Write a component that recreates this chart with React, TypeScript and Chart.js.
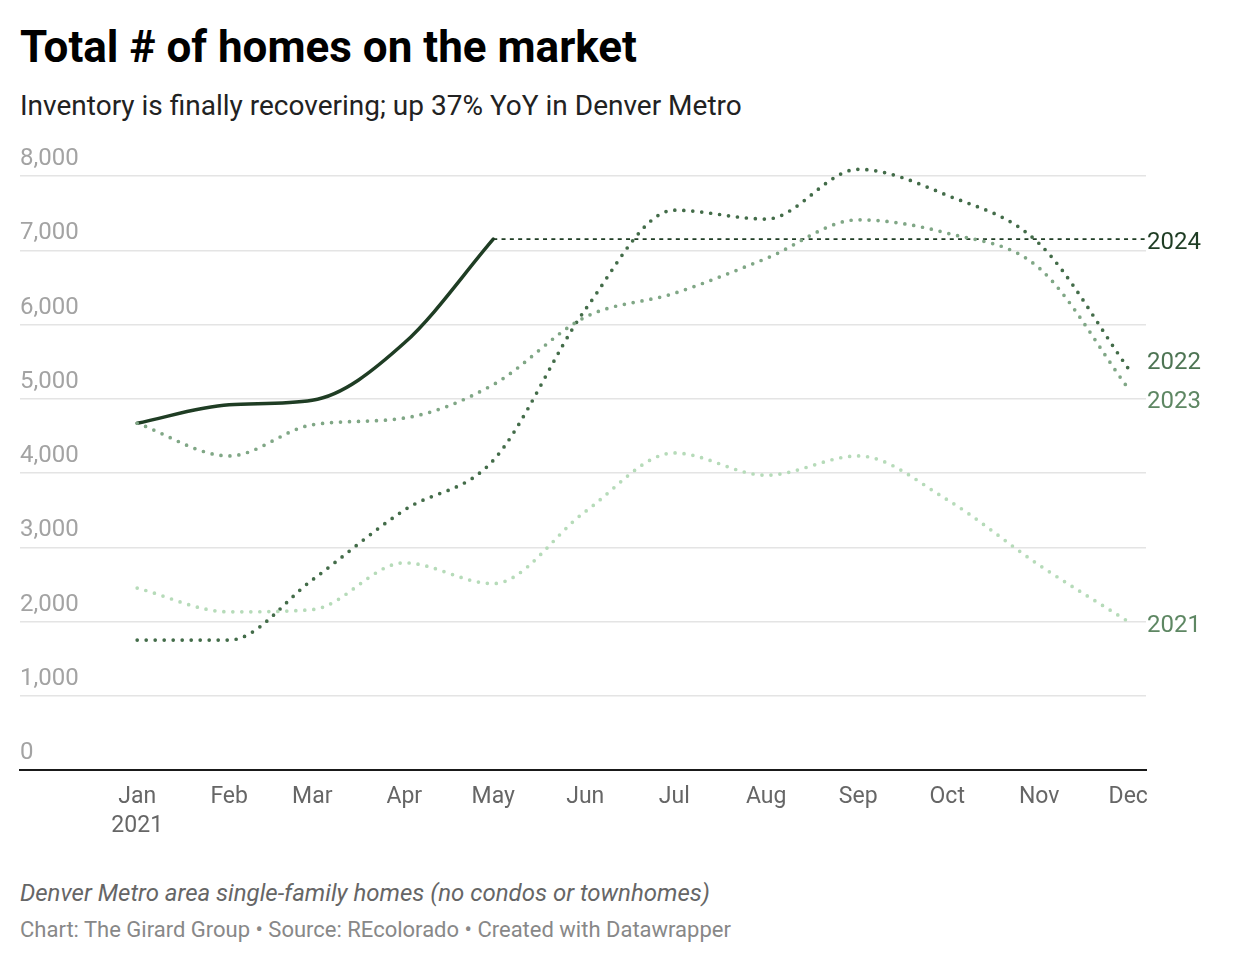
import React, { useEffect, useRef } from "react";
import { Chart, registerables } from "chart.js";

Chart.register(...registerables);

const monthDays = [0, 31, 59, 90, 120, 151, 181, 212, 243, 273, 304, 334];
const monthLabels = ["Jan", "Feb", "Mar", "Apr", "May", "Jun", "Jul", "Aug", "Sep", "Oct", "Nov", "Dec"];
const yTicks = [0, 1000, 2000, 3000, 4000, 5000, 6000, 7000, 8000];

const s2021 = [2450, 2130, 2160, 2790, 2510, 3480, 4270, 3970, 4230, 3640, 2760, 2000];
const s2022 = [1750, 1750, 2560, 3500, 4170, 6200, 7540, 7420, 8090, 7740, 7090, 5410];
const s2023 = [4670, 4230, 4650, 4740, 5190, 6100, 6420, 6890, 7410, 7230, 6760, 5140];
const s2024 = [4670, 4920, 4980, 5750, 7150];

const C2024 = "#1f3d24";
const C2022 = "#436c49";
const C2023 = "#80a786";
const C2021 = "#b6dbb9";

const FONT = "Roboto, 'Noto Sans', sans-serif";

const toPts = (vals: number[]) => vals.map((v, i) => ({ x: monthDays[i], y: v }));

const endLabelsPlugin = {
  id: "endLabels",
  afterDatasetsDraw(chart: any) {
    const { ctx, chartArea, scales } = chart;
    const items = [
      { text: "2024", value: s2024[s2024.length - 1], color: C2024 },
      { text: "2022", value: s2022[s2022.length - 1], color: "#4e7554" },
      { text: "2023", value: s2023[s2023.length - 1], color: "#5e8763" },
      { text: "2021", value: s2021[s2021.length - 1], color: "#5e8763" },
    ].map((it) => ({ ...it, y: scales.y.getPixelForValue(it.value) }));
    items.sort((a, b) => a.y - b.y);
    const gap = 39;
    for (let iter = 0; iter < 10; iter++) {
      for (let i = 1; i < items.length; i++) {
        const d = items[i].y - items[i - 1].y;
        if (d < gap) {
          const push = (gap - d) / 2;
          items[i].y += push;
          items[i - 1].y -= push;
        }
      }
    }
    ctx.save();
    ctx.font = `24px ${FONT}`;
    ctx.textBaseline = "middle";
    ctx.textAlign = "left";
    items.forEach((it) => {
      ctx.fillStyle = it.color;
      ctx.fillText(it.text, chartArea.right + 1, it.y + 4);
    });
    ctx.restore();
  },
};

export default function App() {
  const ref = useRef<HTMLCanvasElement>(null);
  useEffect(() => {
    if (!ref.current) return;
    const dotted = (color: string) => ({
      borderColor: color,
      borderWidth: 3.7,
      borderDash: [0, 9],
      borderCapStyle: "round" as const,
      pointRadius: 0,
      cubicInterpolationMode: "monotone" as const,
      clip: false as any,
      fill: false,
    });
    const chart = new Chart(ref.current, {
      type: "line",
      data: {
        datasets: [
          { label: "2021", data: toPts(s2021), ...dotted(C2021) },
          { label: "2023", data: toPts(s2023), ...dotted(C2023) },
          { label: "2022", data: toPts(s2022), ...dotted(C2022) },
          {
            label: "ref",
            data: [
              { x: monthDays[s2024.length - 1], y: s2024[s2024.length - 1] },
              { x: 340, y: s2024[s2024.length - 1] },
            ],
            borderColor: C2024,
            borderWidth: 1.8,
            borderDash: [4, 4.3],
            pointRadius: 0,
            clip: false as any,
          },
          {
            label: "2024",
            data: toPts(s2024),
            borderColor: C2024,
            borderWidth: 3.5,
            borderCapStyle: "round",
            pointRadius: 0,
            cubicInterpolationMode: "monotone",
            clip: false as any,
          },
        ],
      },
      options: {
        responsive: false,
        animation: false,
        layout: { padding: { left: 20, right: 94, top: 46, bottom: 10 } },
        plugins: { legend: { display: false }, tooltip: { enabled: false } },
        scales: {
          x: {
            type: "linear",
            min: -39.5,
            max: 340,
            afterBuildTicks: (scale: any) => {
              scale.ticks = monthDays.map((v) => ({ value: v }));
            },
            afterFit: (scale: any) => {
              scale.height = 70;
            },
            grid: { display: false, drawTicks: false },
            border: { display: true, color: "#1a1a1a", width: 2 },
            ticks: {
              autoSkip: false,
              maxRotation: 0,
              padding: 13,
              color: "#666666",
              font: { family: FONT, size: 23, lineHeight: 1.25 },
              callback: (value: any) => {
                const i = monthDays.indexOf(Number(value));
                if (i < 0) return "";
                return i === 0 ? [monthLabels[0], "2021"] : monthLabels[i];
              },
            },
          },
          y: {
            type: "linear",
            min: 0,
            max: 8000,
            afterBuildTicks: (scale: any) => {
              scale.ticks = yTicks.map((v) => ({ value: v }));
            },
            afterFit: (scale: any) => {
              scale.width = 0;
            },
            grid: { color: "#e4e4e4", lineWidth: 1.5, drawTicks: false },
            border: { display: false },
            ticks: {
              mirror: true,
              padding: 0,
              labelOffset: -17,
              color: "#a3a3a3",
              font: { family: FONT, size: 24 },
              callback: (value: any) => Number(value).toLocaleString("en-US"),
            },
          },
        },
      },
      plugins: [endLabelsPlugin],
    });
    return () => chart.destroy();
  }, []);

  return (
    <div
      style={{
        position: "absolute",
        left: 0,
        top: 0,
        width: 1240,
        height: 964,
        background: "#ffffff",
        fontFamily: FONT,
        overflow: "hidden",
      }}
    >
      <div
        style={{
          position: "absolute",
          left: 20,
          top: 25,
          fontSize: 44,
          lineHeight: "44px",
          fontWeight: 700,
          color: "#000000",
          whiteSpace: "nowrap",
        }}
      >
        Total # of homes on the market
      </div>
      <div
        style={{
          position: "absolute",
          left: 20,
          top: 92,
          fontSize: 28,
          lineHeight: "28px",
          color: "#222222",
          whiteSpace: "nowrap",
        }}
      >
        Inventory is finally recovering; up 37% YoY in Denver Metro
      </div>
      <canvas
        ref={ref}
        width={1240}
        height={720}
        style={{ position: "absolute", left: 0, top: 130, width: 1240, height: 720 }}
      />
      <div
        style={{
          position: "absolute",
          left: 20,
          top: 880,
          fontSize: 24,
          lineHeight: "26px",
          fontStyle: "italic",
          color: "#666666",
          whiteSpace: "nowrap",
        }}
      >
        Denver Metro area single-family homes (no condos or townhomes)
      </div>
      <div
        style={{
          position: "absolute",
          left: 20,
          top: 918,
          fontSize: 22,
          lineHeight: "24px",
          color: "#888888",
          whiteSpace: "nowrap",
        }}
      >
        Chart: The Girard Group • Source: REcolorado • Created with Datawrapper
      </div>
    </div>
  );
}
